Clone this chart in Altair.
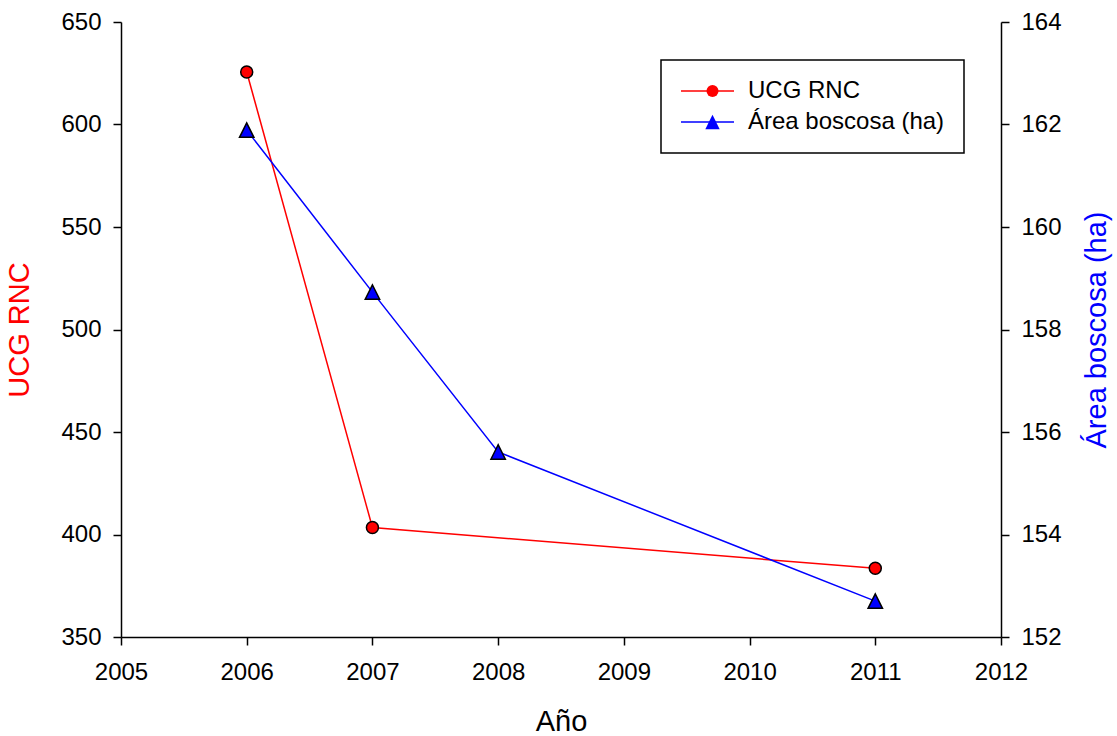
import altair as alt
import pandas as pd

# ---- data ----
series_names = ["UCG RNC", "Área boscosa (ha)"]
series_colors = ["#ff0000", "#0000ff"]

ucg_years = [2006, 2007, 2011]
ucg_values = [625.6, 403.4, 383.5]

area_years = [2006, 2007, 2008, 2011]
area_values = [161.89, 158.73, 155.61, 152.70]

x_ticks = [2005, 2006, 2007, 2008, 2009, 2010, 2011, 2012]
left_ticks = [350, 400, 450, 500, 550, 600, 650]
right_ticks = [152, 154, 156, 158, 160, 162, 164]

ucg_df = pd.DataFrame({"year": ucg_years, "value": ucg_values, "series": series_names[0]})
area_df = pd.DataFrame({"year": area_years, "value": area_values, "series": series_names[1]})

FONT = "Liberation Sans"

x_enc = alt.X(
    "year:Q",
    scale=alt.Scale(domain=[2005, 2012], nice=False, zero=False),
    axis=alt.Axis(values=x_ticks, format="d", title="Año", titleFontSize=29,
                  titleFontWeight="normal", titleColor="black", labelFontSize=24,
                  labelFlush=False, tickSize=8, labelPadding=15, titlePadding=23),
)

left_scale = alt.Scale(domain=[350, 650], nice=False, zero=False)
right_scale = alt.Scale(domain=[152, 164], nice=False, zero=False)

y_left = alt.Y("value:Q", scale=left_scale,
               axis=alt.Axis(orient="left", values=left_ticks, title="UCG RNC",
                             titleColor="#ff0000", titleFontSize=29, titleFontWeight="normal",
                             labelFontSize=24, labelFlush=False, tickSize=8, labelPadding=12,
                             titlePadding=26))
y_right = alt.Y("value:Q", scale=right_scale,
                axis=alt.Axis(orient="right", values=right_ticks, title="Área boscosa (ha)",
                              titleColor="#0000ff", titleFontSize=29, titleFontWeight="normal",
                              titleAngle=270, titleBaseline="top",
                              labelFontSize=24, labelFlush=False, tickSize=8, labelPadding=12,
                              titlePadding=21))
y_left_hidden = alt.Y("value:Q", scale=left_scale, axis=None)
y_right_hidden = alt.Y("value:Q", scale=right_scale, axis=None)

line_legend = alt.Legend(
    title=None, orient="none", legendX=540, legendY=38, direction="vertical",
    symbolType="stroke", symbolSize=2809, symbolStrokeWidth=1.5,
    labelFont=FONT, labelFontSize=24, labelColor="black", labelLimit=500,
    labelOffset=13, padding=19, clipHeight=24, rowPadding=7,
    strokeColor="black", zindex=0,
)
point_legend = alt.Legend(
    title=None, orient="none", legendX=540, legendY=38, direction="vertical",
    values=series_names, symbolSize=144, symbolStrokeColor="black", symbolStrokeWidth=1.5,
    symbolOffset=20.5, labelFontSize=24, labelExpr="''", labelLimit=500,
    padding=19, clipHeight=24, rowPadding=7, zindex=1,
)

stroke_enc = alt.Stroke("series:N",
                        scale=alt.Scale(domain=series_names, range=series_colors),
                        legend=line_legend)
# reversed domain keeps the marker legend separate from the line legend
fill_enc = alt.Fill("series:N",
                    scale=alt.Scale(domain=series_names[::-1], range=series_colors[::-1]),
                    legend=point_legend)
shape_enc = alt.Shape("series:N",
                      scale=alt.Scale(domain=series_names[::-1],
                                      range=["M0,-1.2L-1.2,1.2L1.2,1.2Z", "circle"]),
                      legend=point_legend)

red_line = alt.Chart(ucg_df).mark_line(strokeWidth=1.5).encode(x=x_enc, y=y_left, stroke=stroke_enc)
blue_line = alt.Chart(area_df).mark_line(strokeWidth=1.5).encode(x=x_enc, y=y_right, stroke=stroke_enc)
red_pts = alt.Chart(ucg_df).mark_point(filled=True, size=144, stroke="black", strokeWidth=1.5,
                                       opacity=1).encode(x=x_enc, y=y_left_hidden, fill=fill_enc, shape=shape_enc)
blue_pts = alt.Chart(area_df).mark_point(filled=True, size=144, stroke="black", strokeWidth=1.5,
                                         opacity=1).encode(x=x_enc, y=y_right_hidden, fill=fill_enc, shape=shape_enc)

chart = (
    alt.layer(red_line, blue_line, red_pts, blue_pts)
    .resolve_scale(y="independent")
    .properties(
        width=880, height=615,
        autosize=alt.AutoSizeParams(type="none"),
        padding={"left": 121, "top": 22, "right": 116, "bottom": 99},
        background="white",
    )
    .configure_view(stroke=None)
    .configure_axis(grid=False, domainColor="black", tickColor="black", labelColor="black",
                    domainWidth=1.5, tickWidth=1.5, labelFont=FONT, titleFont=FONT)
    .configure_legend(strokeWidth=1.5, labelFont=FONT)
)

chart.save("out.html", embed_options={"renderer": "svg", "actions": False})
